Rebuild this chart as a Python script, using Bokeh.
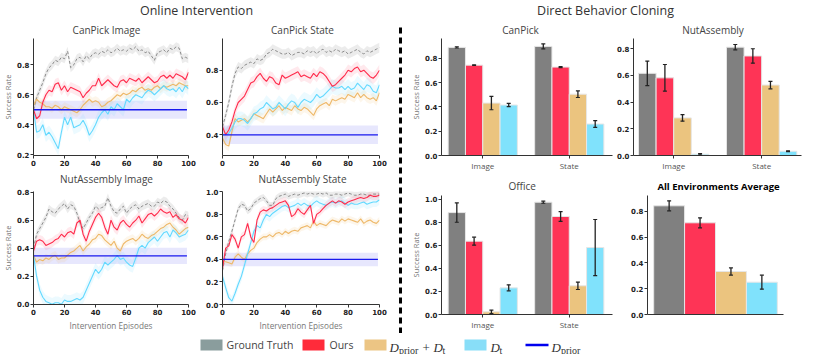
from bokeh.plotting import figure
from bokeh.layouts import row, column
from bokeh.models import ColumnDataSource, Whisker, TeeHead, FixedTicker, NumeralTickFormatter, Range1d
from bokeh.core.properties import value
from bokeh.embed import file_html
from bokeh.resources import INLINE

# ---------------- data ----------------
EP = list(range(0, 101, 2))
PRIOR_X = [0, 99]

CPI_GT = [0.50, 0.58, 0.63, 0.68, 0.74, 0.78, 0.80, 0.83, 0.82, 0.85, 0.84,
          0.89, 0.78, 0.80, 0.84, 0.85, 0.82, 0.86, 0.84, 0.87, 0.88,
          0.87, 0.89, 0.88, 0.90, 0.88, 0.89, 0.91, 0.89, 0.90, 0.89,
          0.91, 0.90, 0.92, 0.89, 0.90, 0.88, 0.89, 0.86, 0.83, 0.88,
          0.89, 0.90, 0.88, 0.91, 0.90, 0.92, 0.91, 0.84, 0.85, 0.84]
CPI_OURS = [0.50, 0.44, 0.46, 0.55, 0.60, 0.63, 0.62, 0.67, 0.68, 0.63, 0.66,
            0.62, 0.65, 0.64, 0.63, 0.62, 0.58, 0.61, 0.63, 0.66, 0.66,
            0.71, 0.66, 0.68, 0.70, 0.68, 0.66, 0.65, 0.69, 0.70, 0.68,
            0.71, 0.70, 0.69, 0.71, 0.68, 0.70, 0.72, 0.70, 0.68, 0.69,
            0.72, 0.73, 0.71, 0.73, 0.71, 0.74, 0.73, 0.72, 0.70, 0.75]
CPI_MIX = [0.53, 0.57, 0.55, 0.54, 0.52, 0.52, 0.51, 0.53, 0.52, 0.50, 0.52,
           0.51, 0.50, 0.49, 0.48, 0.50, 0.53, 0.55, 0.57, 0.55, 0.56,
           0.55, 0.52, 0.53, 0.55, 0.56, 0.58, 0.60, 0.59, 0.61, 0.60,
           0.61, 0.63, 0.62, 0.64, 0.65, 0.63, 0.64, 0.63, 0.65, 0.66,
           0.64, 0.66, 0.65, 0.66, 0.67, 0.66, 0.68, 0.67, 0.66, 0.66]
CPI_DT = [0.50, 0.35, 0.36, 0.40, 0.33, 0.35, 0.32, 0.28, 0.24, 0.35, 0.45,
          0.40, 0.45, 0.38, 0.39, 0.40, 0.43, 0.39, 0.33, 0.36, 0.40,
          0.45, 0.48, 0.50, 0.47, 0.52, 0.50, 0.54, 0.52, 0.50, 0.57,
          0.55, 0.58, 0.60, 0.59, 0.58, 0.61, 0.63, 0.62, 0.60, 0.62,
          0.64, 0.66, 0.64, 0.63, 0.64, 0.62, 0.65, 0.62, 0.66, 0.64]
CPI_PRIOR, CPI_PRIOR_HW = 0.50, 0.06

CPS_GT = [0.45, 0.52, 0.60, 0.70, 0.78, 0.82, 0.81, 0.83, 0.84, 0.85, 0.84,
          0.87, 0.86, 0.87, 0.90, 0.91, 0.93, 0.92, 0.91, 0.90, 0.90,
          0.91, 0.89, 0.90, 0.91, 0.91, 0.90, 0.92, 0.91, 0.92, 0.90,
          0.92, 0.93, 0.91, 0.92, 0.91, 0.93, 0.92, 0.91, 0.92, 0.90,
          0.91, 0.92, 0.93, 0.91, 0.90, 0.92, 0.91, 0.92, 0.93, 0.94]
CPS_OURS = [0.45, 0.40, 0.43, 0.48, 0.55, 0.60, 0.62, 0.64, 0.68, 0.72, 0.73,
            0.76, 0.78, 0.75, 0.73, 0.76, 0.75, 0.72, 0.71, 0.77, 0.75,
            0.76, 0.77, 0.78, 0.79, 0.76, 0.77, 0.76, 0.75, 0.78, 0.76,
            0.79, 0.78, 0.76, 0.73, 0.70, 0.71, 0.73, 0.75, 0.77, 0.80,
            0.79, 0.81, 0.82, 0.79, 0.80, 0.78, 0.76, 0.75, 0.77, 0.80]
CPS_MIX = [0.38, 0.34, 0.33, 0.42, 0.50, 0.48, 0.49, 0.50, 0.48, 0.50, 0.53,
           0.52, 0.51, 0.50, 0.53, 0.56, 0.54, 0.56, 0.58, 0.55, 0.57,
           0.56, 0.55, 0.58, 0.56, 0.55, 0.57, 0.56, 0.54, 0.52, 0.56,
           0.58, 0.59, 0.60, 0.58, 0.62, 0.61, 0.62, 0.63, 0.62, 0.65,
           0.64, 0.63, 0.66, 0.63, 0.65, 0.63, 0.62, 0.63, 0.61, 0.66]
CPS_DT = [0.40, 0.40, 0.41, 0.44, 0.48, 0.50, 0.50, 0.49, 0.47, 0.50, 0.53,
          0.54, 0.56, 0.57, 0.60, 0.58, 0.56, 0.57, 0.60, 0.58, 0.56,
          0.59, 0.61, 0.60, 0.57, 0.60, 0.62, 0.61, 0.60, 0.62, 0.65,
          0.63, 0.64, 0.66, 0.68, 0.70, 0.69, 0.69, 0.70, 0.68, 0.70,
          0.68, 0.69, 0.72, 0.70, 0.68, 0.71, 0.70, 0.67, 0.66, 0.71]
CPS_PRIOR, CPS_PRIOR_HW = 0.40, 0.057

NAI_GT = [0.40, 0.50, 0.54, 0.58, 0.62, 0.68, 0.66, 0.65, 0.68, 0.70, 0.72,
          0.68, 0.71, 0.70, 0.65, 0.58, 0.54, 0.58, 0.62, 0.65, 0.70,
          0.68, 0.69, 0.70, 0.76, 0.70, 0.66, 0.65, 0.68, 0.70, 0.65,
          0.68, 0.70, 0.71, 0.68, 0.70, 0.71, 0.72, 0.70, 0.70, 0.73,
          0.72, 0.74, 0.73, 0.70, 0.68, 0.65, 0.62, 0.60, 0.64, 0.63]
NAI_OURS = [0.38, 0.45, 0.46, 0.45, 0.42, 0.43, 0.44, 0.46, 0.47, 0.50, 0.48,
            0.51, 0.52, 0.50, 0.58, 0.60, 0.50, 0.45, 0.52, 0.57, 0.62,
            0.65, 0.62, 0.55, 0.50, 0.60, 0.55, 0.53, 0.58, 0.60, 0.57,
            0.55, 0.58, 0.60, 0.63, 0.58, 0.61, 0.64, 0.65, 0.63, 0.65,
            0.68, 0.66, 0.65, 0.66, 0.62, 0.64, 0.61, 0.60, 0.58, 0.62]
NAI_MIX = [0.35, 0.30, 0.32, 0.31, 0.33, 0.32, 0.34, 0.35, 0.32, 0.33, 0.33,
           0.35, 0.37, 0.38, 0.40, 0.42, 0.38, 0.41, 0.43, 0.46, 0.47,
           0.50, 0.49, 0.46, 0.44, 0.42, 0.45, 0.40, 0.38, 0.43, 0.45,
           0.46, 0.47, 0.45, 0.47, 0.50, 0.48, 0.47, 0.49, 0.50, 0.52,
           0.54, 0.55, 0.57, 0.58, 0.55, 0.53, 0.50, 0.52, 0.54, 0.55]
NAI_DT = [0.35, 0.20, 0.10, 0.05, 0.02, 0.01, 0.00, 0.01, 0.01, 0.00, 0.03,
          0.02, 0.02, 0.03, 0.04, 0.03, 0.05, 0.10, 0.15, 0.20, 0.25,
          0.22, 0.25, 0.30, 0.28, 0.30, 0.32, 0.35, 0.32, 0.33, 0.30,
          0.28, 0.27, 0.33, 0.40, 0.42, 0.40, 0.44, 0.46, 0.48, 0.45,
          0.48, 0.51, 0.52, 0.48, 0.53, 0.51, 0.48, 0.49, 0.50, 0.53]
NAI_PRIOR, NAI_PRIOR_HW = 0.345, 0.058

NAS_GT = [0.30, 0.45, 0.56, 0.65, 0.75, 0.85, 0.89, 0.88, 0.83, 0.85, 0.90,
          0.92, 0.94, 0.95, 0.92, 0.88, 0.88, 0.94, 0.96, 0.97, 0.98,
          0.96, 0.97, 0.98, 0.97, 0.98, 0.99, 0.98, 0.99, 0.98, 0.98,
          0.99, 0.98, 0.99, 0.97, 0.97, 0.98, 0.98, 0.97, 0.98, 0.99,
          0.98, 0.97, 0.97, 0.98, 0.98, 0.97, 0.97, 0.98, 0.98, 0.98]
NAS_OURS = [0.32, 0.50, 0.52, 0.62, 0.58, 0.50, 0.60, 0.62, 0.72, 0.60, 0.55,
            0.75, 0.82, 0.84, 0.83, 0.85, 0.86, 0.88, 0.90, 0.91, 0.92,
            0.88, 0.78, 0.80, 0.85, 0.82, 0.80, 0.84, 0.88, 0.72, 0.80,
            0.82, 0.85, 0.88, 0.90, 0.92, 0.90, 0.92, 0.91, 0.89, 0.91,
            0.92, 0.93, 0.94, 0.95, 0.94, 0.95, 0.97, 0.96, 0.96, 0.97]
NAS_MIX = [0.38, 0.38, 0.37, 0.36, 0.42, 0.45, 0.42, 0.40, 0.45, 0.48, 0.50,
           0.55, 0.58, 0.60, 0.60, 0.62, 0.60, 0.63, 0.64, 0.62, 0.65,
           0.63, 0.65, 0.66, 0.65, 0.68, 0.69, 0.70, 0.68, 0.74, 0.70,
           0.72, 0.71, 0.70, 0.73, 0.75, 0.74, 0.73, 0.76, 0.74, 0.76,
           0.75, 0.74, 0.73, 0.76, 0.72, 0.74, 0.75, 0.73, 0.72, 0.75]
NAS_DT = [0.25, 0.15, 0.06, 0.03, 0.10, 0.18, 0.25, 0.35, 0.45, 0.55, 0.65,
          0.70, 0.68, 0.75, 0.80, 0.78, 0.81, 0.83, 0.85, 0.87, 0.88,
          0.86, 0.87, 0.88, 0.90, 0.88, 0.90, 0.88, 0.87, 0.90, 0.92,
          0.90, 0.89, 0.88, 0.90, 0.91, 0.90, 0.91, 0.92, 0.90, 0.88,
          0.90, 0.89, 0.89, 0.90, 0.91, 0.89, 0.90, 0.91, 0.91, 0.93]
NAS_PRIOR, NAS_PRIOR_HW = 0.40, 0.06

BAND_GT, BAND_OURS, BAND_MIX, BAND_DT = 0.03, 0.035, 0.03, 0.045

BAR_GROUPS = ["Image", "State"]
CANPICK_MEAN = [[0.889, 0.897], [0.743, 0.727], [0.431, 0.504], [0.415, 0.259]]
CANPICK_ERR = [[0.005, 0.020], [0.003, 0.004], [0.055, 0.027], [0.013, 0.028]]
NUT_MEAN = [[0.616, 0.812], [0.582, 0.746], [0.282, 0.528], [0.010, 0.032]]
NUT_ERR = [[0.092, 0.020], [0.100, 0.054], [0.025, 0.028], [0.005, 0.003]]
OFFICE_MEAN = [[0.884, 0.974], [0.636, 0.850], [0.023, 0.249], [0.231, 0.581]]
OFFICE_ERR = [[0.084, 0.009], [0.035, 0.043], [0.015, 0.032], [0.026, 0.243]]
AVG_MEAN = [0.844, 0.712, 0.334, 0.251]
AVG_ERR = [0.039, 0.039, 0.028, 0.054]

# ---------------- style ----------------
C_GT_LINE = "#8c8c8c"
C_OURS = "#ff2b4b"
C_MIX = "#eeb868"
C_DT = "#63d9ff"
C_PRIOR = "#1818ee"
BAR_COLORS = ["#808080", "#fe3456", "#ebc47f", "#80e2fc"]
BAR_W = 0.2
TICK_FONT = "DejaVu Sans"
TEXT_FONT = "Open Sans"


def blank(w, h):
    p = figure(width=w, height=h, x_range=Range1d(0, w), y_range=Range1d(0, h),
               x_axis_location=None, y_axis_location=None, toolbar_location=None,
               output_backend="svg", min_border=0)
    p.grid.visible = False
    p.outline_line_color = None
    return p


def strip(w, h, xs, y, texts, bold=False):
    p = blank(w, h)
    p.text(x=xs, y=[y] * len(xs), text=texts, text_align="center", text_baseline="middle",
           text_font=value(TEXT_FONT), text_font_size="9.5px" if bold else "10px",
           text_font_style="bold" if bold else "normal",
           text_color="#000000" if bold else "#444444")
    return p


def base_fig(w, h, left, right, top, bottom, xr, yr):
    p = figure(width=w, height=h, x_range=Range1d(*xr), y_range=Range1d(*yr),
               toolbar_location=None, output_backend="svg",
               min_border_left=left, min_border_right=right,
               min_border_top=top, min_border_bottom=bottom)
    p.outline_line_color = None
    p.grid.visible = False
    for ax in (p.xaxis[0], p.yaxis[0]):
        ax.axis_line_color = "#333333"
        ax.axis_line_width = 1
        ax.major_tick_line_color = "#333333"
        ax.major_tick_out = 3
        ax.major_tick_in = 0
        ax.minor_tick_line_color = None
        ax.major_label_text_font = TICK_FONT
        ax.major_label_text_font_size = "7px"
        ax.major_label_text_font_style = "bold"
        ax.major_label_text_color = "#222222"
        ax.major_label_standoff = 1
        ax.axis_label_text_font = TEXT_FONT
        ax.axis_label_text_font_size = "7.5px"
        ax.axis_label_text_font_style = "normal"
        ax.axis_label_text_color = "#777777"
        ax.axis_label_standoff = 1
    return p


def line_fig(w, h, left, right, top, bottom, yr, yticks, gt, ours, mix, dt,
             prior, prior_hw, ylabel=None, xlabel=None):
    p = base_fig(w, h, left, right, top, bottom, (0, 100), yr)
    p.xaxis.ticker = FixedTicker(ticks=[0, 20, 40, 60, 80, 100])
    p.yaxis.ticker = FixedTicker(ticks=yticks)
    p.yaxis.formatter = NumeralTickFormatter(format="0.0")
    if ylabel:
        p.yaxis.axis_label = ylabel
    if xlabel:
        p.xaxis.axis_label = xlabel
        p.xaxis.axis_label_text_font_size = "8.2px"
        p.xaxis.axis_label_standoff = 2
    p.varea(x=PRIOR_X, y1=[prior - prior_hw] * 2, y2=[prior + prior_hw] * 2,
            fill_color=C_PRIOR, fill_alpha=0.1)
    series = [(gt, "#aaaaaa", BAND_GT, 0.22), (mix, C_MIX, BAND_MIX, 0.13),
              (dt, C_DT, BAND_DT, 0.12), (ours, C_OURS, BAND_OURS, 0.1)]
    for vals, col, hw, a in series:
        p.varea(x=EP, y1=[v - hw for v in vals], y2=[v + hw for v in vals],
                fill_color=col, fill_alpha=a)
    p.line(EP, gt, line_color=C_GT_LINE, line_width=1, line_dash="3 2")
    p.line(EP, mix, line_color=C_MIX, line_width=1.1)
    p.line(EP, dt, line_color=C_DT, line_width=1.1)
    p.line(EP, ours, line_color=C_OURS, line_width=1.1)
    p.line(PRIOR_X, [prior] * 2, line_color=C_PRIOR, line_width=1.3)
    return p


def add_errs(p, xs, tops, errs):
    src = ColumnDataSource(dict(x=xs, lower=[t - e for t, e in zip(tops, errs)],
                                upper=[t + e for t, e in zip(tops, errs)]))
    wk = Whisker(base="x", lower="lower", upper="upper", source=src,
                 line_color="#222222", line_width=1.3,
                 upper_head=TeeHead(size=4, line_color="#222222", line_width=1.2),
                 lower_head=TeeHead(size=4, line_color="#222222", line_width=1.2))
    wk.level = "overlay"
    p.add_layout(wk)


def bar_fig(w, h, left, right, top, bottom, xr, yr, yticks, means, errs, ylabel=None):
    p = base_fig(w, h, left, right, top, bottom, xr, yr)
    xs, tops, es, cols = [], [], [], []
    for k in range(4):
        for g in range(len(BAR_GROUPS)):
            xs.append(g + (k - 1.5) * BAR_W)
            tops.append(means[k][g])
            es.append(errs[k][g])
            cols.append(BAR_COLORS[k])
    src = ColumnDataSource(dict(x=xs, top=tops, color=cols))
    p.vbar(x="x", top="top", bottom=0, width=BAR_W, source=src, fill_color="color",
           line_color="#e6e6e6", line_width=1)
    add_errs(p, xs, tops, es)
    p.xaxis.ticker = FixedTicker(ticks=[0, 1])
    p.xaxis.major_label_overrides = {0: BAR_GROUPS[0], 1: BAR_GROUPS[1]}
    p.xaxis.major_label_text_font = TEXT_FONT
    p.xaxis.major_label_text_font_size = "8px"
    p.xaxis.major_label_text_font_style = "normal"
    p.xaxis.major_label_text_color = "#555555"
    p.yaxis.ticker = FixedTicker(ticks=yticks)
    p.yaxis.formatter = NumeralTickFormatter(format="0.0")
    if ylabel:
        p.yaxis.axis_label = ylabel
    return p


# ---------------- left: online intervention ----------------
fa = line_fig(198, 131, 31, 10, 1, 13, (0.195, 0.975), [0.2, 0.4, 0.6, 0.8],
              CPI_GT, CPI_OURS, CPI_MIX, CPI_DT, CPI_PRIOR, CPI_PRIOR_HW, ylabel="Success Rate")
fb = line_fig(194, 131, 24, 13, 1, 13, (0.272, 0.996), [0.4, 0.6, 0.8],
              CPS_GT, CPS_OURS, CPS_MIX, CPS_DT, CPS_PRIOR, CPS_PRIOR_HW)
fc = line_fig(198, 147, 31, 10, 5, 26, (-0.002, 0.805), [0.0, 0.2, 0.4, 0.6, 0.8],
              NAI_GT, NAI_OURS, NAI_MIX, NAI_DT, NAI_PRIOR, NAI_PRIOR_HW,
              ylabel="Success Rate", xlabel="Intervention Episodes")
fd = line_fig(194, 147, 24, 13, 5, 26, (0.0, 1.003), [0.0, 0.2, 0.4, 0.6, 0.8, 1.0],
              NAS_GT, NAS_OURS, NAS_MIX, NAS_DT, NAS_PRIOR, NAS_PRIOR_HW,
              xlabel="Intervention Episodes")
sl1 = strip(392, 17, [106, 302], 7.5, ["CanPick Image", "CanPick State"])
sl2 = strip(392, 18, [106, 302], 7.5, ["NutAssembly Image", "NutAssembly State"])
left = column(sl1, row(fa, fb), sl2, row(fc, fd))

# ---------------- right: behavior cloning ----------------
b1 = bar_fig(206, 136, 30, 2, 1, 16, (-0.477, 1.5), (0, 0.962), [0.0, 0.2, 0.4, 0.6, 0.8],
             CANPICK_MEAN, CANPICK_ERR, ylabel="Success Rate")
b2 = bar_fig(208, 136, 17, 21, 1, 16, (-0.457, 1.453), (0, 0.877), [0.0, 0.2, 0.4, 0.6, 0.8],
             NUT_MEAN, NUT_ERR)
b3 = bar_fig(206, 140, 30, 2, 2, 19, (-0.477, 1.5), (0, 1.032), [0.0, 0.2, 0.4, 0.6, 0.8, 1.0],
             OFFICE_MEAN, OFFICE_ERR, ylabel="Success Rate")

b4 = base_fig(208, 140, 33, 39, 2, 19, (-0.7, 3.7), (0, 0.924))
avg_x = list(range(len(AVG_MEAN)))
b4.vbar(x=avg_x, top=AVG_MEAN, bottom=0, width=1.0, fill_color=BAR_COLORS,
        line_color="#e6e6e6", line_width=1)
add_errs(b4, avg_x, AVG_MEAN, AVG_ERR)
b4.xaxis.ticker = FixedTicker(ticks=[])
b4.yaxis.ticker = FixedTicker(ticks=[0.0, 0.2, 0.4, 0.6, 0.8])
b4.yaxis.formatter = NumeralTickFormatter(format="0.0")

sr1 = strip(414, 17, [112, 304.5], 7.5, ["CanPick", "NutAssembly"])
sr2a = strip(206, 20, [113.7], 7.5, ["Office"])
sr2b = strip(208, 20, [104], 7.5, ["All Environments Average"], bold=True)
right = column(sr1, row(b1, b2), row(sr2a, sr2b), row(b3, b4))

sep = blank(16, 313)
sep.segment(x0=[8], y0=[0], x1=[8], y1=[309], line_color="black", line_width=3, line_dash="6 4")

hdr = blank(822, 20)
hdr.text(x=[196, 605], y=[10.5, 10.5], text=["Online Intervention", "Direct Behavior Cloning"],
         text_align="center", text_baseline="middle", text_font=value(TEXT_FONT),
         text_font_size="12.5px", text_color="#333333")

# ---------------- legend ----------------
leg = blank(822, 21)
LEG_PATCH = ["#8a9d9d", "#ff2b3a", "#ecc584", "#88def8"]
leg.quad(left=[200, 302, 364, 464], right=[222, 324, 386, 486], bottom=[4] * 4, top=[15] * 4,
         fill_color=LEG_PATCH, line_color=None)
leg.segment(x0=[525], y0=[9.5], x1=[548], y1=[9.5], line_color="#0000ee", line_width=2.5)
leg.text(x=[226, 329], y=[9.5, 9.5], text=["Ground Truth", "Ours"], text_baseline="middle",
         text_font=value(TEXT_FONT), text_font_size="10.5px", text_color="#444444")
leg.text(x=[389, 433, 490, 551], y=[7] * 4, text=["D", "D", "D", "D"], text_baseline="alphabetic",
         text_font=value("Liberation Serif"), text_font_style="italic", text_font_size="13px",
         text_color="#333333")
leg.text(x=[398.5, 442, 499, 560.5], y=[4.5] * 4, text=["prior", "t", "t", "prior"],
         text_baseline="alphabetic", text_font=value("Liberation Serif"),
         text_font_size="10px", text_color="#333333")
leg.text(x=[422], y=[7], text=["+"], text_baseline="alphabetic",
         text_font=value("Liberation Serif"), text_font_size="13px", text_color="#333333")

layout = column(hdr, row(left, sep, right), leg)

open("out.html", "w").write(file_html(layout, INLINE))
